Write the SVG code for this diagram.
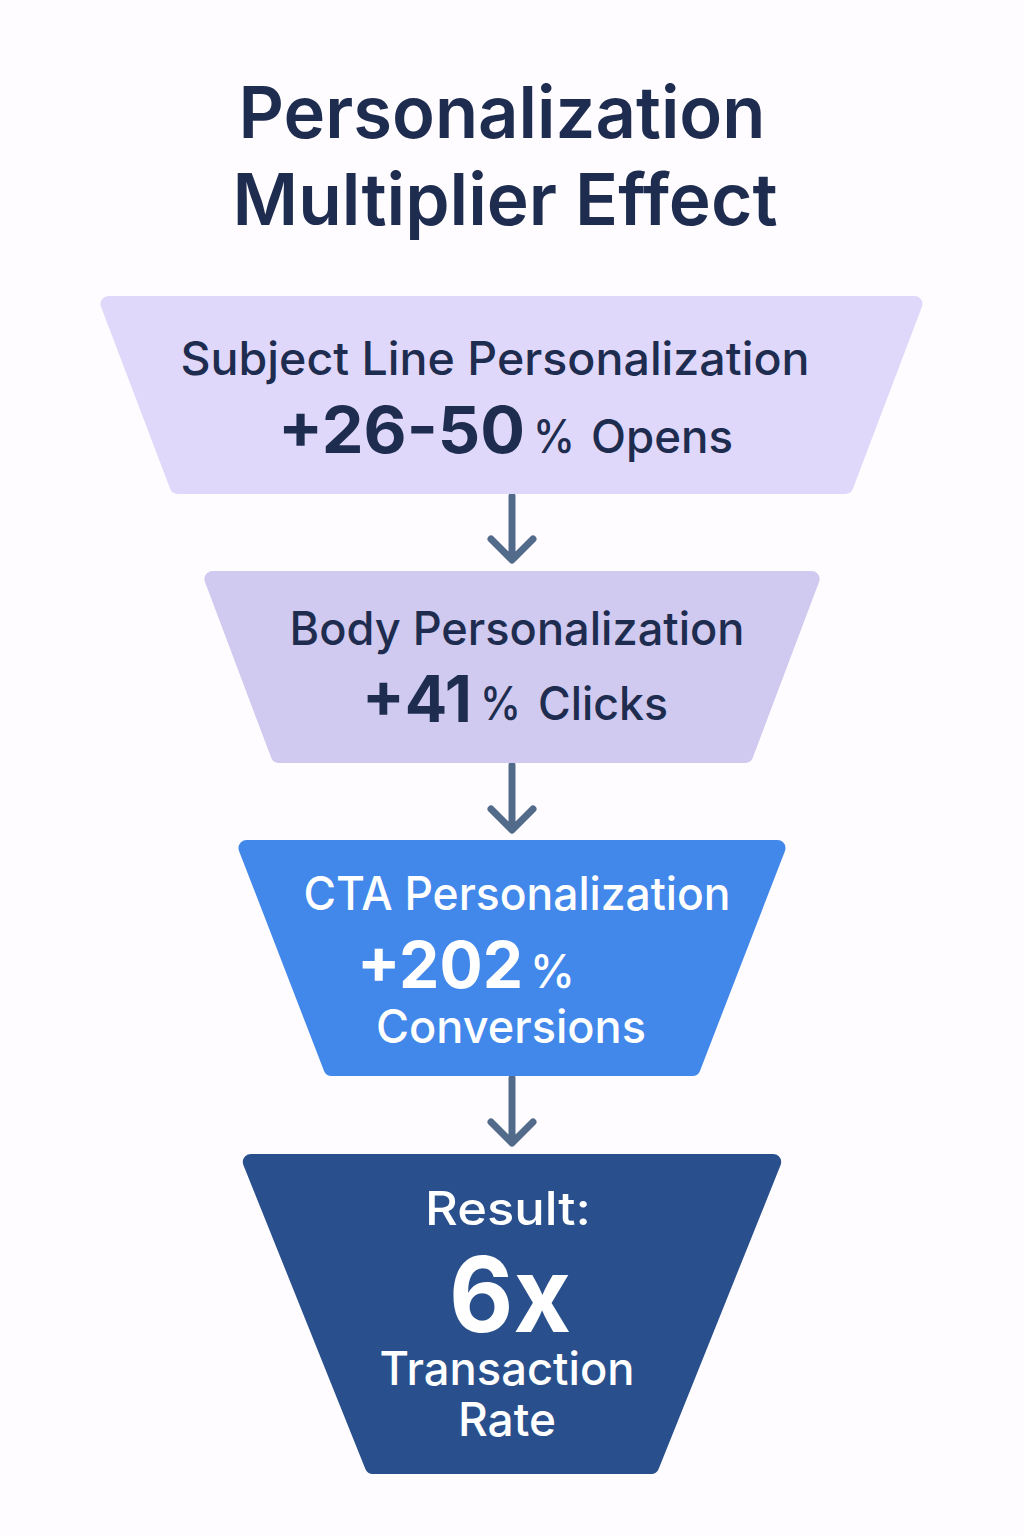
<svg xmlns="http://www.w3.org/2000/svg" width="1024" height="1536" viewBox="0 0 1024 1536">
<style>
.t{font-family:Inter,"Liberation Sans",sans-serif;}
.title{font-size:72px;font-weight:600;fill:#1e2d4f;}
.lab{font-size:46px;font-weight:500;}
.num{font-weight:700;}
.dark{fill:#1e2d4f;}
.white{fill:#ffffff;}
.conn{stroke:#526b8a;stroke-width:7;fill:none;stroke-linecap:round;stroke-linejoin:round;}
</style>
<rect width="1024" height="1536" fill="#fefcfe"/>
<g id="title" class="t">
<text x="502" y="138" text-anchor="middle" class="title" textLength="527" lengthAdjust="spacingAndGlyphs">Personalization</text>
<text x="505" y="225" text-anchor="middle" class="title" textLength="545" lengthAdjust="spacingAndGlyphs">Multiplier Effect</text>
</g>
<g id="connectors">
<path class="conn" d="M512 496 V558 M491 539 L512 560 L533 539"/>
<path class="conn" d="M512 765 V828 M491 809 L512 830 L533 809"/>
<path class="conn" d="M512 1078 V1141 M491 1122 L512 1143 L533 1122"/>
</g>
<g id="node1" class="t">
<polygon points="108.5,304 914.5,304 845.4,486 177.6,486" fill="#e0d8fa" stroke="#e0d8fa" stroke-width="16" stroke-linejoin="round"/>
<text x="495" y="375" text-anchor="middle" class="lab dark" textLength="629" lengthAdjust="spacingAndGlyphs">Subject Line Personalization</text>
<text x="278" y="453" class="dark num" font-size="64" textLength="247" lengthAdjust="spacingAndGlyphs">+26-50</text>
<text x="533" y="453" class="dark lab" textLength="42" lengthAdjust="spacingAndGlyphs">%</text>
<text x="591" y="453" class="dark lab" textLength="142" lengthAdjust="spacingAndGlyphs">Opens</text>
</g>
<g id="node2" class="t">
<polygon points="212.4,579 811.6,579 745.3,755 278.7,755" fill="#d0c9f0" stroke="#d0c9f0" stroke-width="16" stroke-linejoin="round"/>
<text x="517" y="645" text-anchor="middle" class="lab dark" textLength="455" lengthAdjust="spacingAndGlyphs">Body Personalization</text>
<text x="362" y="722" class="dark num" font-size="64" textLength="110" lengthAdjust="spacingAndGlyphs">+41</text>
<text x="480" y="720" class="dark lab" textLength="41" lengthAdjust="spacingAndGlyphs">%</text>
<text x="538" y="720" class="dark lab" textLength="130" lengthAdjust="spacingAndGlyphs">Clicks</text>
</g>
<g id="node3" class="t">
<polygon points="246.5,848 777.5,848 692.5,1068 331.5,1068" fill="#4287ea" stroke="#4287ea" stroke-width="16" stroke-linejoin="round"/>
<text x="517" y="910" text-anchor="middle" class="lab white" textLength="427" lengthAdjust="spacingAndGlyphs">CTA Personalization</text>
<text x="357" y="988" class="white num" font-size="64" textLength="166" lengthAdjust="spacingAndGlyphs">+202</text>
<text x="530" y="988" class="white lab" textLength="45" lengthAdjust="spacingAndGlyphs">%</text>
<text x="511" y="1043" text-anchor="middle" class="white lab" textLength="270" lengthAdjust="spacingAndGlyphs">Conversions</text>
</g>
<g id="node4" class="t">
<polygon points="250.8,1162 773.2,1162 651.2,1466 372.8,1466" fill="#29508c" stroke="#29508c" stroke-width="16" stroke-linejoin="round"/>
<text x="508" y="1225" text-anchor="middle" class="lab white" textLength="166" lengthAdjust="spacingAndGlyphs">Result:</text>
<text x="510" y="1332" text-anchor="middle" class="white num" font-size="104" textLength="122" lengthAdjust="spacingAndGlyphs">6x</text>
<text x="507" y="1385" text-anchor="middle" class="lab white" textLength="255" lengthAdjust="spacingAndGlyphs">Transaction</text>
<text x="507" y="1436" text-anchor="middle" class="lab white" textLength="98" lengthAdjust="spacingAndGlyphs">Rate</text>
</g>
</svg>
